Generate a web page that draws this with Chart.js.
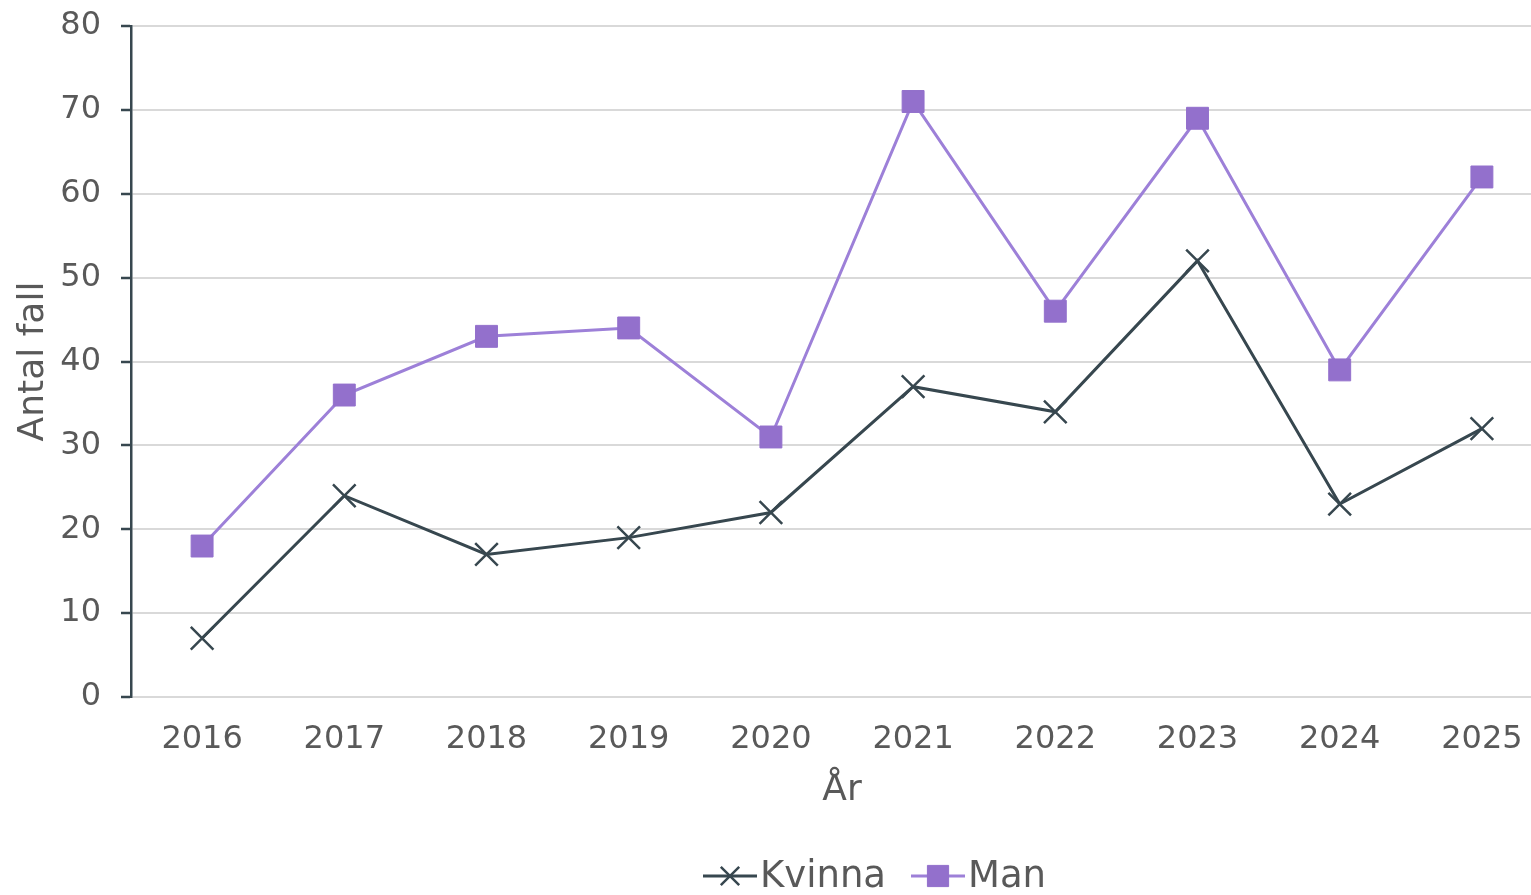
<!DOCTYPE html>
<html>
<head>
<meta charset="utf-8">
<script src="https://cdn.jsdelivr.net/npm/chart.js@4.4.1/dist/chart.umd.min.js"></script>
<style>
  html, body { margin: 0; padding: 0; background: #fff; overflow: hidden; }
  canvas { display: block; }
</style>
</head>
<body>
<canvas id="chart" width="1553" height="895"></canvas>
<script>
// Data
const years = ['2016', '2017', '2018', '2019', '2020', '2021', '2022', '2023', '2024', '2025'];
const kvinna = [7, 24, 17, 19, 22, 37, 34, 52, 23, 32];
const man = [18, 36, 43, 44, 31, 71, 46, 69, 39, 62];
const yTicks = [0, 10, 20, 30, 40, 50, 60, 70, 80];

const TEXT = '#595959';
const FONT = 'DejaVu Sans, Verdana, sans-serif';
const KV_COLOR = '#37474f';
const MAN_LINE = '#9d80d8';
const MAN_FILL = '#9370cc';

// Legend drawn as line + marker + label, like the source
const lineLegend = {
    id: 'lineLegend',
    afterDraw(chart) {
        const ctx = chart.ctx;
        const y = 876;
        const items = chart.data.datasets;
        ctx.save();
        ctx.font = '37px ' + FONT;
        ctx.textBaseline = 'middle';
        const seg = 54, gap = 3, spacing = 25;
        let x = 703;
        items.forEach(ds => {
            ctx.strokeStyle = ds.borderColor;
            ctx.lineWidth = ds.borderWidth;
            ctx.beginPath();
            ctx.moveTo(x, y);
            ctx.lineTo(x + seg, y);
            ctx.stroke();
            ctx.fillStyle = ds.pointBackgroundColor;
            ctx.strokeStyle = ds.pointBorderColor;
            ctx.lineWidth = ds.pointBorderWidth;
            Chart.helpers.drawPoint(ctx, {
                pointStyle: ds.pointStyle,
                radius: ds.pointStyle === 'rect' ? 15 : 13,
                borderWidth: ds.pointBorderWidth
            }, x + seg / 2, y);
            ctx.fillStyle = TEXT;
            ctx.textAlign = 'left';
            ctx.fillText(ds.label, x + seg + gap, y + 1);
            x += seg + gap + ctx.measureText(ds.label).width + spacing;
        });
        ctx.restore();
    }
};

new Chart(document.getElementById('chart'), {
    type: 'line',
    data: {
        labels: years,
        datasets: [
            {
                label: 'Kvinna',
                data: kvinna,
                borderColor: KV_COLOR,
                borderWidth: 3,
                pointStyle: 'crossRot',
                pointRadius: 16,
                pointBorderWidth: 2.5,
                pointBorderColor: KV_COLOR,
                pointBackgroundColor: KV_COLOR,
                tension: 0
            },
            {
                label: 'Man',
                data: man,
                borderColor: MAN_LINE,
                borderWidth: 3,
                pointStyle: 'rect',
                pointRadius: 15.5,
                pointBorderWidth: 1,
                pointBorderColor: MAN_FILL,
                pointBackgroundColor: MAN_FILL,
                tension: 0
            }
        ]
    },
    options: {
        responsive: false,
        animation: false,
        events: [],
        layout: {
            autoPadding: false,
            padding: { top: 26, bottom: 78, left: 0, right: 0 }
        },
        plugins: {
            legend: { display: false },
            tooltip: { enabled: false }
        },
        scales: {
            x: {
                offset: true,
                grid: { display: false, drawTicks: false },
                border: { display: false },
                ticks: {
                    color: TEXT,
                    font: { family: FONT, size: 32 },
                    padding: 23,
                    maxRotation: 0
                },
                title: {
                    display: true,
                    text: 'År',
                    color: TEXT,
                    font: { family: FONT, size: 36 },
                    padding: { top: 0, bottom: 5 }
                },
                afterFit: scale => {
                    scale.height = 120;
                    scale.paddingLeft = 0;
                    scale.paddingRight = 0;
                }
            },
            y: {
                min: 0,
                max: 80,
                afterBuildTicks: scale => { scale.ticks = yTicks.map(v => ({ value: v })); },
                grid: {
                    color: '#d9d9d9',
                    lineWidth: 2,
                    drawTicks: true,
                    tickLength: 10,
                    tickColor: KV_COLOR,
                    tickWidth: 2.5
                },
                border: { display: true, color: KV_COLOR, width: 2.5 },
                ticks: {
                    color: TEXT,
                    font: { family: FONT, size: 32 },
                    padding: 20
                },
                title: {
                    display: true,
                    text: 'Antal fall',
                    color: TEXT,
                    font: { family: FONT, size: 36 },
                    padding: { top: 12, bottom: 0 }
                },
                afterFit: scale => {
                    scale.width = 131;
                    scale.paddingTop = 0;
                    scale.paddingBottom = 0;
                }
            }
        }
    },
    plugins: [lineLegend]
});
</script>
</body>
</html>
